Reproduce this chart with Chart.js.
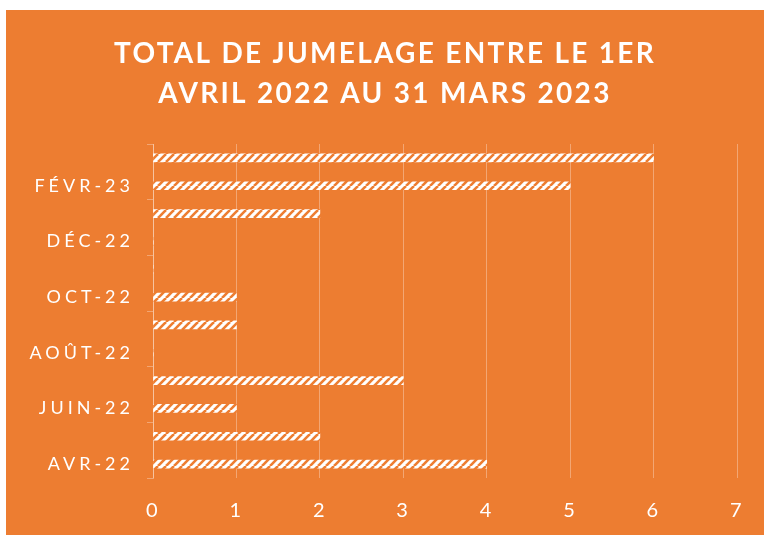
<!DOCTYPE html>
<html>
<head>
<meta charset="utf-8">
<script src="https://cdn.jsdelivr.net/npm/chart.js@4/dist/chart.umd.min.js"></script>
<style>
  html, body { margin: 0; padding: 0; background: #ffffff; }
  #wrap { position: absolute; left: 6px; top: 10px; width: 758px; height: 525px; background: #ED7D31; }
  canvas { display: block; }
</style>
</head>
<body>
<div id="wrap"><canvas id="c" width="758" height="525"></canvas></div>
<script>
const titleLines = ['TOTAL DE JUMELAGE ENTRE LE 1ER', 'AVRIL 2022 AU 31 MARS 2023'];
const months = ['AVR-22', 'MAI-22', 'JUIN-22', 'JUIL-22', 'AOÛT-22', 'SEPT-22', 'OCT-22', 'NOV-22', 'DÉC-22', 'JANV-23', 'FÉVR-23', 'MARS-23'];
const values = [4, 2, 1, 3, 0, 1, 1, 0, 0, 2, 5, 6];
const xTicks = [0, 1, 2, 3, 4, 5, 6, 7];

const ORANGE = '#ED7D31';
const LINE = 'rgba(255,255,255,0.32)';

function makePattern() {
  const p = document.createElement('canvas');
  p.width = 8; p.height = 8;
  const g = p.getContext('2d');
  g.fillStyle = '#ffffff';
  g.fillRect(0, 0, 8, 8);
  g.strokeStyle = ORANGE;
  g.lineWidth = 2.6;
  [-8, 0, 8].forEach(x => {
    g.beginPath();
    g.moveTo(x, 8);
    g.lineTo(x + 8, 0);
    g.stroke();
  });
  return document.getElementById('c').getContext('2d').createPattern(p, 'repeat');
}

const spacingPlugin = {
  id: 'spacing',
  beforeDraw(chart) { chart.ctx.letterSpacing = '2.3px'; },
  beforeDatasetsDraw(chart) { chart.ctx.letterSpacing = '0px'; },
  afterDatasetsDraw(chart) { chart.ctx.letterSpacing = '4px'; },
  afterDraw(chart) { chart.ctx.letterSpacing = '0px'; }
};

new Chart(document.getElementById('c'), {
  type: 'bar',
  data: {
    labels: months,
    datasets: [{
      data: values,
      backgroundColor: makePattern(),
      borderWidth: 0,
      barThickness: 8
    }]
  },
  options: {
    indexAxis: 'y',
    responsive: false,
    animation: false,
    layout: { padding: { left: 0, right: 0, top: 24, bottom: 0 } },
    plugins: {
      legend: { display: false },
      tooltip: { enabled: false },
      title: {
        display: true,
        text: titleLines,
        color: '#ffffff',
        font: { family: 'Lato', size: 28, weight: 'bold', lineHeight: 40 / 28 },
        padding: { top: 0, bottom: 30 }
      }
    },
    scales: {
      x: {
        min: 0,
        max: 7,
        afterBuildTicks(scale) { scale.ticks = xTicks.map(v => ({ value: v })); },
        afterFit(scale) { scale.height = 57; },
        ticks: { color: '#ffffff', font: { family: 'Lato', size: 20 }, padding: 21 },
        grid: { color: LINE, drawTicks: false, lineWidth: 1 },
        border: { display: false }
      },
      y: {
        reverse: true,
        afterFit(scale) { scale.width = 147; },
        ticks: {
          z: 1,
          autoSkip: false,
          color: '#ffffff',
          font: { family: 'Lato', size: 18 },
          padding: 13,
          callback(v, i) { return i % 2 === 0 ? months[i] : ''; }
        },
        grid: {
          drawOnChartArea: false,
          tickLength: 6,
          tickColor: ctx => (ctx.index === undefined || ctx.index % 2 === 0) ? LINE : 'rgba(0,0,0,0)'
        },
        border: { display: true, color: LINE }
      },
      yRight: {
        type: 'category',
        axis: 'y',
        position: 'right',
        labels: months,
        afterFit(scale) { scale.width = 27; },
        ticks: { display: false },
        grid: { display: false },
        border: { display: false }
      }
    }
  },
  plugins: [spacingPlugin]
});
</script>
</body>
</html>
